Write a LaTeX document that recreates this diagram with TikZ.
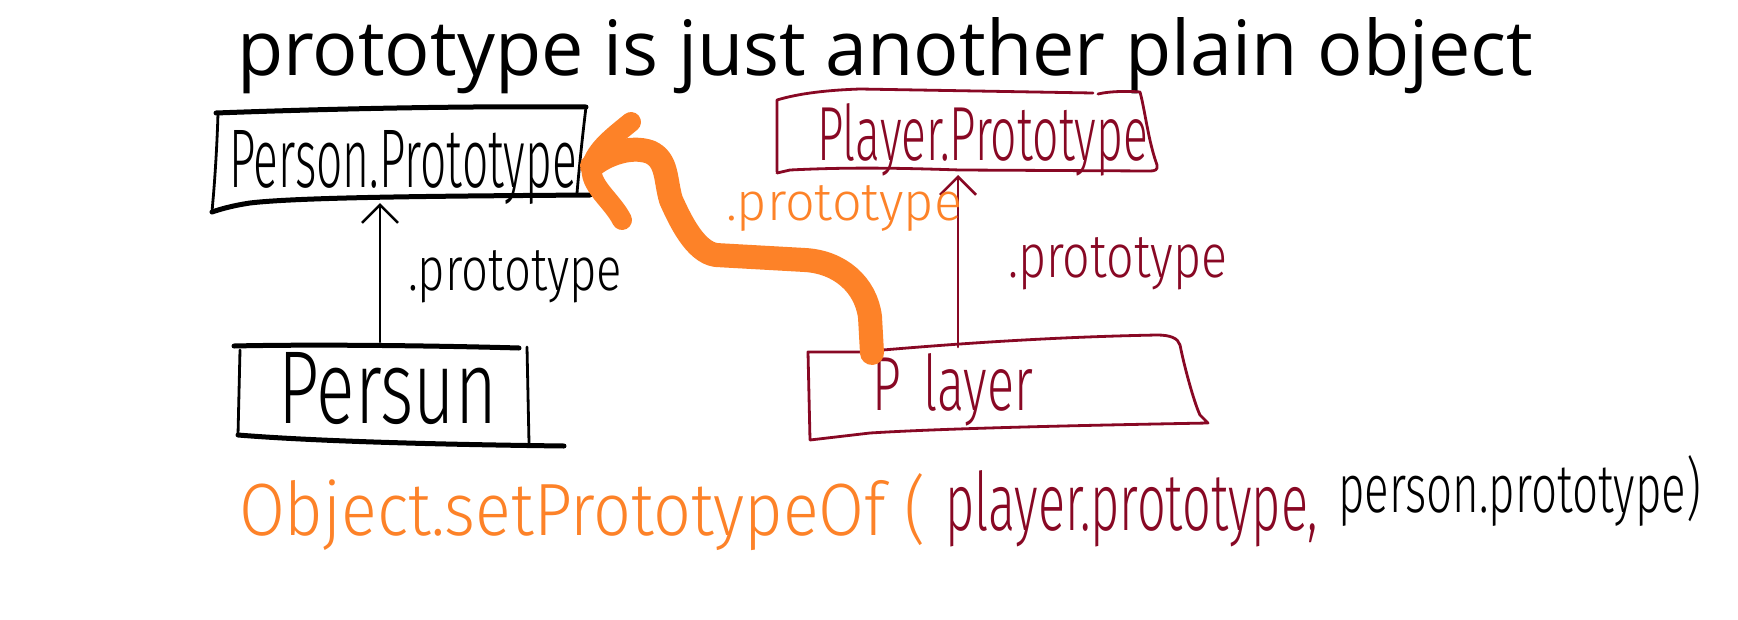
\documentclass[tikz,border=0pt]{standalone}
\usepackage{fontspec}
\setmainfont{Open Sans}
\newfontfamily\hand{Fira Sans Light}
\usetikzlibrary{arrows.meta}
\definecolor{wine}{RGB}{136,8,36}
\definecolor{orng}{RGB}{253,130,40}
\begin{document}
\begin{tikzpicture}[x=1pt,y=-1pt,
  hw/.style={inner sep=0pt, outer sep=0pt, font=\hand, anchor=base west},
  pen/.style={line width=2.8pt, line cap=round, line join=round},
  heavy/.style={line width=5pt, line cap=round, line join=round},
  arr/.style={line width=2.5pt, line cap=round, -{Straight Barb[length=18pt,width=36pt]}},
  fat/.style={orng, line width=24pt, line cap=round, line join=round}]
\useasboundingbox (0,0) rectangle (1738,619);
\fill[white] (0,0) rectangle (1738,619);

% title
\node[inner sep=0pt, anchor=base west] (title) at (237,75)
  {\resizebox{1296pt}{58pt}{prototype is just another plain object}};

% Person.Prototype box (black)
\draw[heavy] (216,113) .. controls (350,108) and (480,106) .. (586,107);
\draw[pen] (586,107) .. controls (582,140) and (579,170) .. (577,193);
\draw[heavy] (590,195) .. controls (450,196) and (300,197) .. (250,203) .. controls (230,206) and (218,210) .. (212,212);
\draw[pen] (218,113) .. controls (217,150) and (214,190) .. (213,200) -- (212,212);
\node[hw] (ppt) at (229,187) {\resizebox{348pt}{57pt}{Person.Prototype}};

% Person box (black)
\draw[heavy] (234,346) .. controls (320,344) and (450,346) .. (519,348);
\draw[pen] (240,350) -- (238,435);
\draw[pen] (527,347) -- (529,443);
\draw[heavy] (238,435) .. controls (300,440) and (400,444) .. (564,446);
\node[hw] (person) at (278,423) {\resizebox{219pt}{71pt}{Persun}};

% black connector
\coordinate (pertop) at (380,342);
\coordinate (ppbot) at (380,203);
\draw[arr] (pertop) -- (ppbot);
\node[hw] (lblk) at (408,290) {\resizebox{214pt}{40pt}{.prototype}};

% Player.Prototype box (wine)
\draw[pen, wine] (777,172) -- (777,100) .. controls (800,93) and (830,90) .. (860,89) -- (1093,93);
\draw[pen, wine] (1098,94) .. controls (1110,91) and (1130,91) .. (1140,92) .. controls (1145,110) and (1148,140) .. (1157,165) .. controls (1158,170) and (1155,171) .. (1150,171) -- (960,170) .. controls (900,168) and (850,167) .. (790,170) -- (777,173);
\node[hw, text=wine] (plpt) at (817,160) {\resizebox{331pt}{57pt}{Player.Prototype}};

% Player box (wine)
\draw[pen, wine] (810,440) -- (808,352) -- (860,352) .. controls (950,344) and (1050,337) .. (1157,335) .. controls (1170,335) and (1178,338) .. (1180,345) .. controls (1185,370) and (1195,405) .. (1200,415) -- (1208,423) .. controls (1100,425) and (950,428) .. (870,433) -- (810,440);
\node[hw, text=wine] (player) at (872,410) {\resizebox{161pt}{57pt}{P\hspace{0.45em}layer}};

% wine connector
\coordinate (pltop) at (958,347);
\coordinate (plptbot) at (958,175);
\draw[arr, wine] (pltop) -- (plptbot);
\node[hw, text=wine] (lwine) at (1008,277) {\resizebox{219pt}{40pt}{.prototype}};

% orange connector
\coordinate (ostart) at (872,353);
\coordinate (otip) at (592,166);
\draw[fat] (ostart) -- (870,317) .. controls (866,285) and (840,262) .. (805,260)
  -- (716,255) .. controls (695,252) and (680,220) .. (671,200)
  .. controls (665,180) and (668,160) .. (650,152)
  .. controls (630,145) and (605,155) .. (otip);
\draw[orng, line width=20pt, line cap=round, line join=round]
  (631,122) .. controls (615,135) and (595,150) .. (otip)
  .. controls (588,185) and (612,200) .. (622,220);
\node[hw, text=orng] (lorng) at (726,220) {\resizebox{236pt}{35pt}{.prototype}};

% bottom call
\node[hw, text=orng] (call) at (239,535) {\resizebox{687pt}{62pt}{Object.setPrototypeOf (}};
\node[hw, text=wine] (arg1) at (945,530) {\resizebox{373pt}{60pt}{player.prototype,}};
\node[hw] (arg2) at (1338,512) {\resizebox{363pt}{57pt}{person.prototype)}};
\end{tikzpicture}
\end{document}
